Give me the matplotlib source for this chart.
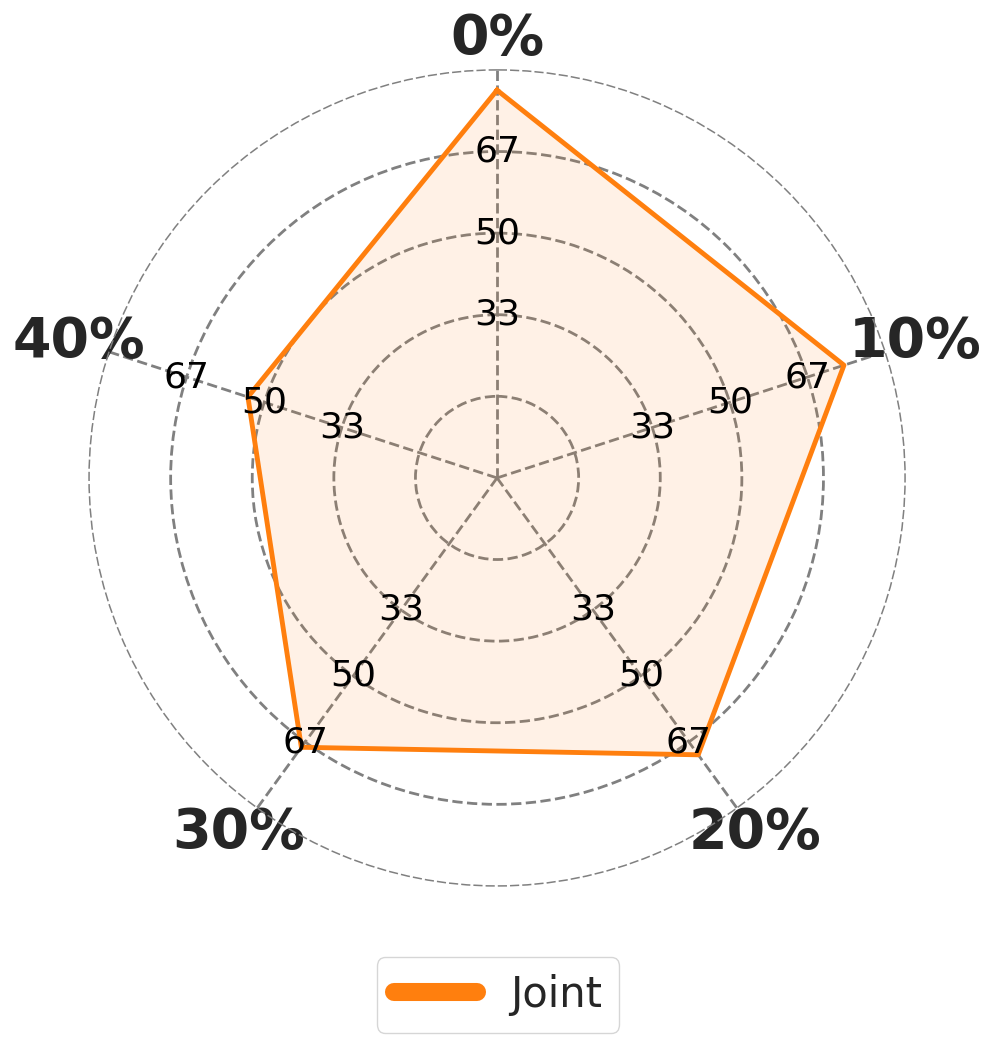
import numpy as np
import matplotlib
matplotlib.use("Agg")
import matplotlib.pyplot as plt

# Chart data
categories = ["0%", "10%", "20%", "30%", "40%"]
values = [79.2, 74.5, 69.9, 68.0, 53.5]
series_name = "Joint"
r_ticks = [100 / 6, 200 / 6, 300 / 6, 400 / 6]
r_labels = ["33", "50", "67"]
r_label_ticks = r_ticks[1:]
r_max = 500 / 6

color = "#ff7f0e"
text_color = "#262626"

fig = plt.figure(figsize=(9.96, 10.45), dpi=100)
ax = fig.add_axes([0.0894, 0.1522, 0.8193, 0.7809], polar=True)
ax.set_theta_offset(np.pi / 2)
ax.set_theta_direction(-1)

n = len(categories)
angles = np.linspace(0, 2 * np.pi, n, endpoint=False)
closed_angles = np.append(angles, angles[0])
closed_values = np.append(values, values[0])

ax.plot(closed_angles, closed_values, color=color, linewidth=3.5, label=series_name, zorder=3)
ax.fill(closed_angles, closed_values, color=color, alpha=0.1, zorder=2)

ax.set_ylim(0, r_max)
ax.set_yticks(r_ticks)
ax.set_yticklabels([])
ax.set_xticks(angles)
ax.set_xticklabels(categories, fontsize=40, fontweight="bold", color=text_color)
ax.tick_params(axis="x", pad=12)

ax.grid(True, color="#808080", linestyle="--", linewidth=2)
ax.spines["polar"].set_linestyle((0, (5, 3)))
ax.spines["polar"].set_linewidth(1.1)
ax.spines["polar"].set_color("#808080")

# radial labels on every spoke
for a in angles:
    for r, lab in zip(r_label_ticks, r_labels):
        ax.text(a, r, lab, ha="center", va="center", fontsize=26, color="black", zorder=4)

leg = fig.legend(loc="center", bbox_to_anchor=(0.5, 0.048), fontsize=30,
                 frameon=True, edgecolor="#cccccc", handlelength=2.0)
for line in leg.get_lines():
    line.set_linewidth(13)
    line.set_solid_capstyle("round")
for t in leg.get_texts():
    t.set_color(text_color)

fig.savefig("out.png", dpi=100)
